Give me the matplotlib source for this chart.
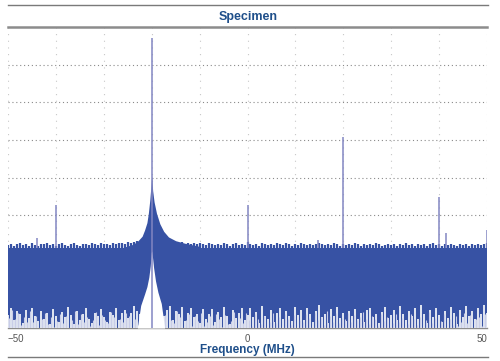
import numpy as np
import matplotlib.pyplot as plt
from matplotlib.lines import Line2D

plt.rcParams['font.family'] = ['Liberation Sans', 'DejaVu Sans']

# spectrum, levels in dB (axis -80 .. 0)
grid_f = np.arange(-50, 50.001, 0.625)

# ragged top of the noise band
grass_db = [
    -57.9, -57.6, -58.2, -57.8, -57.4, -58.0, -57.7, -58.3, -57.5, -57.9, -58.1, -57.6, -57.8, -57.3, -58.0, -57.7, -58.1,
    -57.8, -57.5, -58.0, -58.2, -57.7, -57.4, -57.9, -58.1, -57.6, -57.8, -58.0, -57.3, -57.7, -57.9, -57.5, -57.8,
    -57.6, -57.9, -57.4, -57.7, -57.5, -57.3, -57.6, -57.2, -57.4, -57.1, -57.0, -56.8, -56.9, -56.7, -56.5, -56.6,
    -56.8, -56.6, -56.9, -57.1, -57.0, -57.3, -57.1, -57.4, -57.5, -57.2, -57.6, -57.4, -57.7, -57.5, -57.8, -57.4,
    -57.7, -57.9, -57.5, -57.8, -58.0, -57.6, -57.9, -57.4, -57.7, -58.1, -57.8, -57.5, -57.9, -57.7, -58.0, -57.1,
    -57.6, -57.9, -57.7, -58.1, -57.5, -57.8, -58.0, -57.6, -57.9, -57.4, -57.7, -58.0, -57.5, -57.8, -58.1, -57.7,
    -57.9, -57.5, -57.8, -58.0, -57.6, -57.9, -57.7, -57.3, -57.8, -58.0, -57.6, -57.9, -57.5, -57.7, -58.1, -57.8,
    -58.0, -57.7, -57.9, -57.5, -57.8, -58.1, -57.6, -57.9, -57.7, -58.0, -57.5, -57.8, -58.1, -57.9, -57.6, -58.0,
    -57.8, -58.1, -57.7, -57.9, -57.5, -58.0, -57.8, -58.2, -57.6, -57.9, -57.7, -58.1, -57.8, -57.5, -58.0, -57.7,
    -58.1, -57.8, -58.0, -57.6, -57.9, -58.2, -57.7, -58.0, -57.8, -58.1, -57.6, -57.9, -57.7, -58.0, -57.8, -57.3,
]

# ragged bottom of the noise band (tops of the white gaps)
floor_db = [
    -76.5, -74.8, -77.9, -75.6, -76.2, -78.8, -75.1, -77.3, -74.6, -76.9, -78.1, -75.4, -77.6, -76.0, -79.0, -74.9, -76.7,
    -78.4, -75.8, -77.1, -74.3, -76.5, -78.9, -75.5, -77.8, -76.2, -74.7, -77.5, -78.6, -75.9, -76.8, -74.9, -77.2,
    -78.3, -75.7, -76.6, -74.8, -77.9, -76.1, -75.3, -77.4, -76.0, -74.2, -75.6, -76.4, -75.1, -77.0, -74.5, -76.2,
    -75.8, -77.3, -74.6, -76.9, -75.2, -74.1, -77.8, -75.5, -76.4, -74.4, -78.2, -75.9, -74.8, -77.0, -76.3, -78.7,
    -75.0, -77.6, -76.2, -74.9, -78.5, -75.7, -77.1, -74.5, -76.8, -78.9, -75.3, -77.4, -76.0, -74.7, -77.9, -76.5,
    -74.6, -77.2, -75.8, -78.6, -74.2, -76.7, -77.5, -75.1, -78.3, -76.0, -74.8, -77.7, -75.4, -76.9, -78.1, -74.4,
    -76.6, -75.2, -77.9, -74.7, -76.3, -78.4, -75.6, -74.0, -77.1, -76.4, -78.8, -75.0, -76.8, -74.5, -77.4, -75.9,
    -78.2, -75.4, -76.7, -74.9, -77.6, -76.1, -78.5, -75.3, -74.6, -77.0, -76.2, -78.7, -75.7, -74.3, -77.3, -76.5,
    -75.1, -77.8, -74.2, -76.4, -78.0, -75.5, -76.9, -74.7, -77.5, -73.9, -76.3, -78.6, -75.2, -77.1, -74.8, -76.6,
    -78.3, -75.6, -77.4, -74.5, -76.0, -78.9, -75.3, -77.0, -74.1, -76.8, -75.5, -77.7, -74.6, -76.2, -73.8, -75.9,
]

# carrier skirt around -20 MHz
skirt_top_f = [-26.0, -24.0, -23.0, -22.0, -21.5, -21.0, -20.7, -20.4, -20.15, -20.0,
               -19.8, -19.5, -19.0, -18.3, -17.5, -16.5, -15.0, -13.0, -10.0]
skirt_top_db = [-58.6, -57.8, -57.0, -55.6, -54.0, -52.0, -49.5, -46.0, -42.0, -39.5,
                -43.5, -46.5, -49.5, -52.3, -54.3, -55.8, -56.8, -57.5, -58.3]
skirt_low_f = [-23.0, -22.3, -21.5, -21.0, -20.6, -20.3, -20.1, -20.0,
               -19.85, -19.6, -19.2, -18.7, -18.0, -17.3]
skirt_low_db = [-80.0, -74.0, -71.0, -69.0, -66.5, -63.5, -60.0, -59.5,
                -61.0, -64.0, -67.5, -70.5, -73.5, -80.0]

# discrete spurs
spur_f = [-44.0, -40.0, 0.0, 14.7, 20.0, 40.0, 41.5, 49.9]
spur_db = [-56.0, -47.3, -47.3, -56.5, -29.2, -45.2, -54.8, -54.0]
carrier_f = -20.0
carrier_db = -2.9

band_base = -58.8
y_min, y_max = -80, 0

blue = '#3752a4'
spur_col = '#8286c2'
navy = '#1f4f8a'

fig = plt.figure(figsize=(5.0, 3.61), dpi=100)
ax = fig.add_axes([0.016, 0.0914, 0.958, 0.8338])

ax.fill_between([-50, 50], y_min, band_base, color=blue, lw=0, zorder=2)
ax.vlines(grid_f, band_base - 0.2, grass_db, color=blue, lw=1.6, zorder=2)
ax.fill_between(skirt_top_f, y_min, skirt_top_db, color=blue, lw=0, zorder=2)
ax.vlines(grid_f, y_min, floor_db, color='white', lw=1.2, zorder=3)
ax.vlines(grid_f + 0.3, y_min, np.array(floor_db[::-1]) - 1.5, color='#c9cde8', lw=0.8, zorder=3)
ax.fill_between(skirt_low_f, y_min, skirt_low_db, color='white', lw=0, zorder=3)
ax.vlines(spur_f, band_base, spur_db, color=spur_col, lw=1.1, zorder=4)
ax.vlines([carrier_f], y_min, [carrier_db], color=spur_col, lw=1.1, zorder=4)

ax.set_xlim(-50, 50)
ax.set_ylim(y_min, y_max)

# grid
for yv in np.arange(-70, 0, 10):
    ax.axhline(yv, color='#8a8a8a', lw=0.8, ls=(0, (1, 2.5)), zorder=1)
for xv in np.arange(-50, 51, 10):
    ax.axvline(xv, color='#c8c8c8', lw=0.8, ls=(0, (1, 5)), zorder=1)

for s in ['left', 'right']:
    ax.spines[s].set_visible(False)
ax.spines['top'].set_color('#8c8c8c')
ax.spines['top'].set_linewidth(1.8)
ax.spines['bottom'].set_color('#8c8c8c')
ax.spines['bottom'].set_linewidth(1.0)
ax.set_yticks([])
ax.set_xticks([-50, 0, 50])
ax.set_xticklabels(['\u221250', '0', '50'], fontsize=7, color='#555555')
ax.tick_params(axis='x', length=0, pad=4)
labs = ax.get_xticklabels()
labs[0].set_ha('left')
labs[2].set_ha('right')

ax.set_xlabel('Frequency (MHz)', fontsize=8.5, fontweight='bold', color=navy, labelpad=0)
fig.text(0.497, 0.953, 'Specimen', ha='center', va='center', fontsize=9,
         fontweight='bold', color=navy)

# rules above and below
fig.add_artist(Line2D([0.016, 0.975], [1 - 5 / 361, 1 - 5 / 361], color='#7a7a7a', lw=1.0))
fig.add_artist(Line2D([0.016, 0.975], [1 - 357 / 361, 1 - 357 / 361], color='#7a7a7a', lw=1.0))

fig.savefig('out.png', dpi=100)
